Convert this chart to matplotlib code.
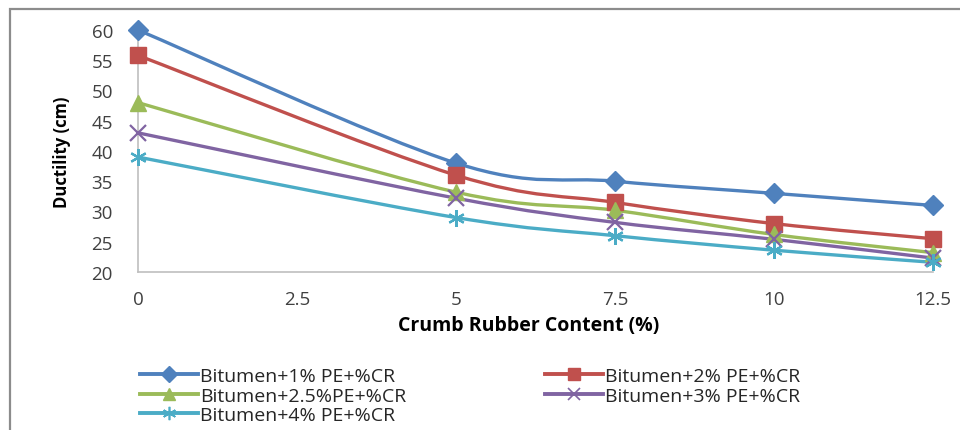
import matplotlib
matplotlib.use("Agg")
import matplotlib.pyplot as plt
from matplotlib.path import Path
from matplotlib.patches import PathPatch, Rectangle
from matplotlib.lines import Line2D
import numpy as np

plt.rcParams['font.family'] = ['Open Sans', 'DejaVu Sans']

# ---- data ----
crumb_rubber = [0, 5, 7.5, 10, 12.5]
series_labels = ["Bitumen+1% PE+%CR", "Bitumen+2% PE+%CR", "Bitumen+2.5%PE+%CR",
                 "Bitumen+3% PE+%CR", "Bitumen+4% PE+%CR"]
pe1 = [60, 38, 35, 33, 31]
pe2 = [55.8, 36, 31.5, 28, 25.5]
pe25 = [48, 33.2, 30.2, 26.2, 23.2]
pe3 = [43, 32.2, 28.2, 25.4, 22.3]
pe4 = [39, 29, 26, 23.6, 21.6]
x_ticks = [0, 2.5, 5, 7.5, 10, 12.5]
x_tick_labels = ["0", "2.5", "5", "7.5", "10", "12.5"]
y_ticks = [20, 25, 30, 35, 40, 45, 50, 55, 60]

colors = ["#4F81BD", "#C0504D", "#9BBB59", "#8064A2", "#4BACC6"]
markers = ["D", "s", "^", "x", (6, 2, 0)]
msizes = [10, 11, 11, 11, 12]

W, H = 960, 431
fig = plt.figure(figsize=(W / 100, H / 100), dpi=100)

# outer frame
fig.patches.append(Rectangle((10 / W, -0.1), 1.2, 1 - 10 / H + 0.1, transform=fig.transFigure,
                             fill=False, edgecolor="#8c8c8c", linewidth=1.6))

ax = fig.add_axes([138 / W, 1 - 273 / H, (933 - 138) / W, (273 - 31) / H])
ax.set_xlim(0, 12.5)
ax.set_ylim(20, 60)
for s in ["top", "right"]:
    ax.spines[s].set_visible(False)
for s in ["left", "bottom"]:
    ax.spines[s].set_color("#bfbfbf")
    ax.spines[s].set_linewidth(1.2)
ax.set_xticks(x_ticks)
ax.set_xticklabels(x_tick_labels)
ax.set_yticks(y_ticks)
ax.tick_params(axis="both", length=0, labelsize=13.5, colors="#404040")
ax.tick_params(axis="y", pad=18, labelcolor="#404040")
ax.tick_params(axis="x", pad=13, labelcolor="#404040")


def smooth_path(xs, ys):
    pts = np.column_stack([xs, ys]).astype(float)
    verts = [tuple(pts[0])]
    codes = [Path.MOVETO]
    n = len(pts)
    for i in range(n - 1):
        p0 = pts[i - 1] if i > 0 else pts[i]
        p1 = pts[i]
        p2 = pts[i + 1]
        p3 = pts[i + 2] if i + 2 < n else pts[i + 1]
        c1 = p1 + (p2 - p0) / 6.0
        c2 = p2 - (p3 - p1) / 6.0
        verts += [tuple(c1), tuple(c2), tuple(p2)]
        codes += [Path.CURVE4] * 3
    return Path(verts, codes)


all_series = [pe1, pe2, pe25, pe3, pe4]
handles = []
for ys, c, m, ms, lab in zip(all_series, colors, markers, msizes, series_labels):
    ax.add_patch(PathPatch(smooth_path(crumb_rubber, ys), facecolor="none", edgecolor=c,
                           linewidth=2.4, zorder=2, clip_on=False))
    ax.plot(crumb_rubber, ys, linestyle="none", marker=m, markersize=ms, color=c,
            markeredgecolor=c, markeredgewidth=1.6 if m in ("x", (6, 2, 0)) else 1,
            zorder=3, clip_on=False)
    handles.append(Line2D([], [], color=c, linewidth=2.8, marker=m, markersize=ms * 0.8,
                          markeredgewidth=1.2 if m in ("x", (6, 2, 0)) else 1, label=lab))

fig.text(62 / W, 1 - 152 / H, "Ductility (cm)", rotation=90, ha="center", va="center",
         fontsize=12, fontweight="bold", color="black")
fig.text(529 / W, 1 - 326 / H, "Crumb Rubber Content (%)", ha="center", va="center",
         fontsize=14, fontweight="bold", color="black")

# row-wise order: [1%, 2%], [2.5%, 3%], [4%]
order = [0, 2, 4, 1, 3]
leg = fig.legend(handles=[handles[i] for i in order], loc="upper left",
                 bbox_to_anchor=(140 / W, 1 - 368 / H),
                 ncol=2, frameon=False, fontsize=14, handlelength=3.0, handletextpad=0.1,
                 columnspacing=7.1, labelspacing=0.08, borderpad=0, borderaxespad=0)
for t in leg.get_texts():
    t.set_color("#262626")

fig.savefig("out.png", dpi=100)
